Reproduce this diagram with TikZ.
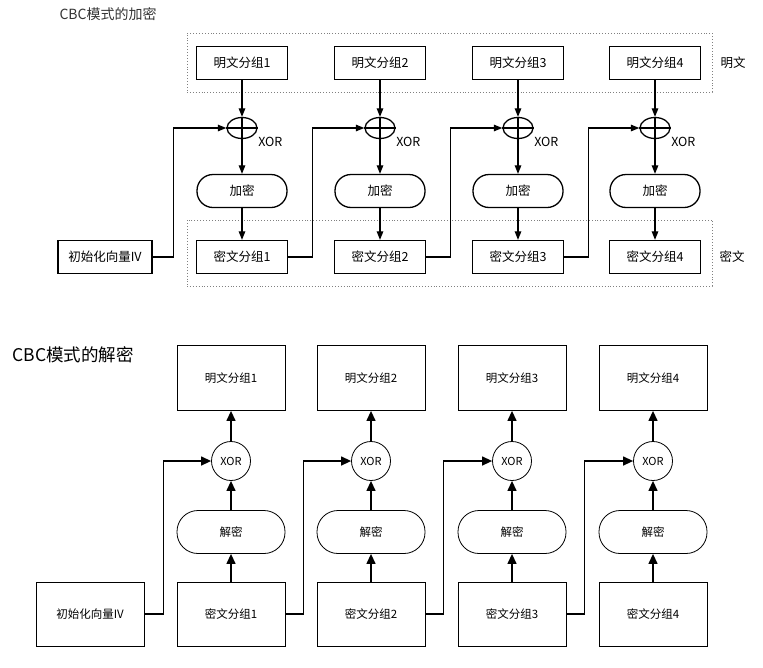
\documentclass[tikz,border=0pt]{standalone}
\usepackage{fontspec}
\setmainfont{Noto Sans CJK SC}
\usetikzlibrary{arrows.meta,shapes.geometric}

\begin{document}
\begin{tikzpicture}[x=1pt,y=-1pt,
		topbox/.style={draw,line width=1.3pt,minimum width=91pt,minimum height=33pt,inner sep=0pt,font=\fontsize{12.5}{14}\selectfont},
		topenc/.style={topbox,rounded corners=16pt,minimum width=90pt},
		topxor/.style={draw,ellipse,line width=1.3pt,minimum width=30pt,minimum height=21pt,inner sep=0pt},
		topline/.style={line width=1.2pt},
		toparrow/.style={topline,-{Triangle[length=8.5pt,width=6.5pt]}},
		zone/.style={draw=gray,dotted,line width=0.9pt,inner sep=0pt},
		botbox/.style={draw,line width=0.8pt,minimum width=108pt,minimum height=64pt,inner sep=0pt,font=\fontsize{11.5}{13}\selectfont},
		botdec/.style={botbox,rounded corners=21pt,minimum height=43pt},
		botxor/.style={draw,circle,line width=0.8pt,minimum size=39pt,inner sep=0pt,font=\fontsize{11}{13}\selectfont},
		botarrow/.style={line width=1.3pt,-{Triangle[length=10pt,width=9pt]}}]
		\useasboundingbox (0,0) rectangle (763,667);
		\node[anchor=west,font=\fontsize{14}{15}\selectfont,text=black!80] (enctitle) at (56,14) {CBC模式的加密};
		\node[zone,minimum width=525pt,minimum height=59pt] (plainzone) at (449.5,62.5) {};
		\node[zone,minimum width=525pt,minimum height=66pt] (cipherzone) at (449.5,253) {};
		\node[font=\fontsize{12.5}{14}\selectfont] (plainlabel) at (733,63) {明文};
		\node[font=\fontsize{12.5}{14}\selectfont] (cipherlabel) at (732,257) {密文};
		\node[topbox,minimum width=94pt] (ivt) at (105,257) {初始化向量IV};
		\foreach \i/\x in {1/242,2/380,3/518,4/655}{
			\node[topbox] (pt\i) at (\x,63) {明文分组\i};
			\node[topxor] (xt\i) at (\x,128) {};
			\node[topenc] (et\i) at (\x,191) {加密};
			\node[topbox] (ct\i) at (\x,257) {密文分组\i};
			\node[anchor=west,inner sep=0pt,font=\fontsize{12.5}{14}\selectfont] (xl\i) at ([xshift=5pt,yshift=-6pt]xt\i.south east) {XOR};
			\draw[toparrow] (pt\i) -- (xt\i.north);
			\draw[toparrow] (xt\i.north) -- (et\i);
			\draw[topline] (xt\i.west) -- (xt\i.east);
			\draw[toparrow] (et\i) -- (ct\i);
		}
		\draw[toparrow] (ivt.east) -- ++(21,0) |- (xt1.west);
		\foreach \i/\j in {1/2,2/3,3/4}{
			\draw[toparrow] (ct\i.east) -- ++(24,0) |- (xt\j.west);
		}
		\node[anchor=west,font=\fontsize{17.5}{19}\selectfont] (dectitle) at (9,355) {CBC模式的解密};
		\node[botbox] (ivb) at (90,614) {初始化向量IV};
		\foreach \i/\x in {1/231,2/371,3/512,4/653}{
			\node[botbox,minimum height=65pt] (pb\i) at (\x,378) {明文分组\i};
			\node[botxor] (xb\i) at (\x,461) {XOR};
			\node[botdec] (db\i) at (\x,532) {解密};
			\node[botbox] (cb\i) at (\x,614) {密文分组\i};
			\draw[botarrow] (cb\i) -- (db\i);
			\draw[botarrow] (db\i) -- (xb\i);
			\draw[botarrow] (xb\i) -- (pb\i);
		}
		\draw[botarrow] (ivb.east) -- ++(19,0) |- (xb1.west);
		\foreach \i/\j in {1/2,2/3,3/4}{
			\draw[botarrow] (cb\i.east) -- ++(18,0) |- (xb\j.west);
		}
\end{tikzpicture}
\end{document}
